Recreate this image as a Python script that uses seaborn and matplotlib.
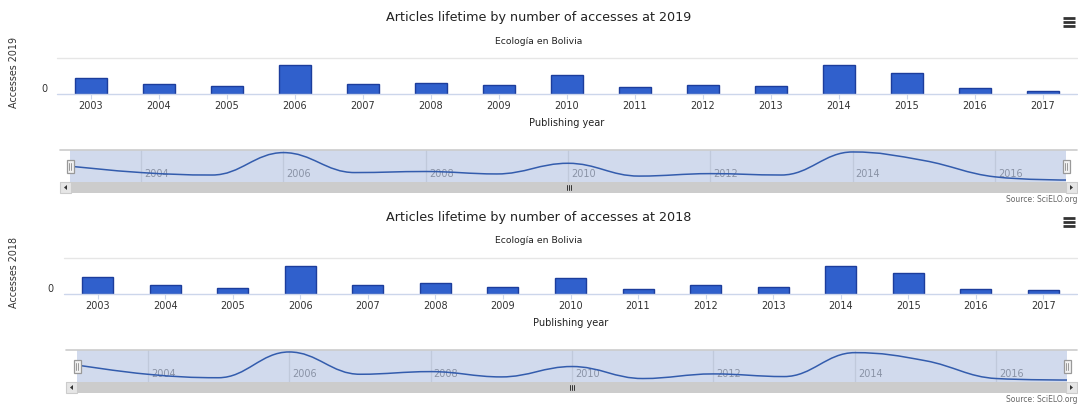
import numpy as np
import pandas as pd
import matplotlib
matplotlib.use("Agg")
import matplotlib.pyplot as plt
import seaborn as sns
from matplotlib.path import Path
from matplotlib.patches import PathPatch, Rectangle, Polygon
from matplotlib.lines import Line2D
from matplotlib.transforms import ScaledTranslation

# ---------------- data ----------------
years = [2003, 2004, 2005, 2006, 2007, 2008, 2009, 2010,
         2011, 2012, 2013, 2014, 2015, 2016, 2017]
accesses_2019 = [16, 10, 7.7, 28.7, 10, 11, 8.7, 18.7, 6.7, 9, 7.7, 29.3, 21.3, 6, 3]
accesses_2018 = [17, 9, 6, 28.3, 9, 11.3, 6.7, 15.7, 5.3, 9.3, 7, 27.7, 20.7, 5.3, 4]
panel_years = ["2019", "2018"]
subtitle = "Ecología en Bolivia"
x_title = "Publishing year"
source = "Source: SciELO.org"
nav_label_years = [2004, 2006, 2008, 2010, 2012, 2014, 2016]
y_grid_top = 36

# ---------------- style ----------------
W, H = 1078, 407
sns.set_theme(style="white")
plt.rcParams["font.family"] = ["DejaVu Sans"]

BAR_FILL = "#3060cc"
BAR_EDGE = "#1c3d9c"
TXT = "#333333"

fig = plt.figure(figsize=(W / 100, H / 100), dpi=100)


def box(x0, y0, x1, y1):
    return [x0 / W, 1 - y1 / H, (x1 - x0) / W, (y1 - y0) / H]


def fx(px):
    return px / W


def fy(py):
    return 1 - py / H


def hc_spline(xs, ys, smoothing=1.5):
    n = len(xs)
    lc = [None] * n
    rc = [None] * n
    d = smoothing + 1
    for i in range(1, n - 1):
        px, py = xs[i], ys[i]
        lx, ly = xs[i - 1], ys[i - 1]
        nx, ny = xs[i + 1], ys[i + 1]
        lcx = (smoothing * px + lx) / d
        lcy = (smoothing * py + ly) / d
        rcx = (smoothing * px + nx) / d
        rcy = (smoothing * py + ny) / d
        if rcx != lcx:
            corr = ((rcy - lcy) * (rcx - px)) / (rcx - lcx) + py - rcy
            lcy += corr
            rcy += corr
        if lcy > ly and lcy > py:
            lcy = max(ly, py); rcy = 2 * py - lcy
        elif lcy < ly and lcy < py:
            lcy = min(ly, py); rcy = 2 * py - lcy
        if rcy > ny and rcy > py:
            rcy = max(ny, py); lcy = 2 * py - rcy
        elif rcy < ny and rcy < py:
            rcy = min(ny, py); lcy = 2 * py - rcy
        lc[i] = (lcx, lcy)
        rc[i] = (rcx, rcy)
    verts = [(xs[0], ys[0])]
    codes = [Path.MOVETO]
    for i in range(1, n):
        c1 = rc[i - 1] if rc[i - 1] is not None else (xs[i - 1], ys[i - 1])
        c2 = lc[i] if lc[i] is not None else (xs[i], ys[i])
        verts += [c1, c2, (xs[i], ys[i])]
        codes += [Path.CURVE4] * 3
    return Path(verts, codes)


layouts = [
    dict(oy=0, bar_x0=57, nav_x0=60, hl=70, hr=1066, zero_x=48),
    dict(oy=200, bar_x0=64, nav_x0=66, hl=77, hr=1067, zero_x=54),
]
series = [accesses_2019, accesses_2018]

for lay, vals, py in zip(layouts, series, panel_years):
    oy = lay["oy"]
    # titles
    fig.text(0.5, fy(18 + oy), f"Articles lifetime by number of accesses at {py}",
             ha="center", va="center", fontsize=9.2, color="#222222")
    fig.text(0.5, fy(41 + oy), subtitle, ha="center", va="center",
             fontsize=6.7, color="#222222")
    # menu icon
    for yy in (17, 21, 25):
        fig.add_artist(Line2D([fx(1063), fx(1075)], [fy(yy + oy + 1)] * 2,
                              color="#333333", lw=2.0, solid_capstyle="butt"))
    # y axis title
    fig.text(fx(14), fy(72 + oy), f"Accesses {py}", rotation=90,
             ha="center", va="center", fontsize=6.9, color=TXT)

    # ---- bar chart ----
    ax = fig.add_axes(box(lay["bar_x0"], 58 + oy, 1077, 94 + oy))
    df = pd.DataFrame({"year": [str(y) for y in years], "accesses": vals})
    sns.barplot(data=df, x="year", y="accesses", ax=ax, color=BAR_FILL,
                saturation=1, width=0.46, edgecolor=BAR_EDGE, linewidth=1,
                errorbar=None)
    ax.set_xlim(-0.5, len(years) - 0.5)
    ax.set_ylim(0, y_grid_top)
    for s in ax.spines.values():
        s.set_visible(False)
    ax.axhline(y_grid_top, color="#e6e6e6", lw=1, clip_on=False, zorder=0)
    ax.axhline(0, color="#ccd6eb", lw=1, clip_on=False, zorder=3)
    ax.tick_params(axis="x", bottom=True, length=3.6, width=0.8,
                   color="#ccd6eb", pad=1.5, labelsize=7, labelcolor=TXT)
    ax.set_yticks([0])
    ax.set_yticklabels(["0"])
    ax.tick_params(axis="y", left=False, length=0,
                   pad=(lay["bar_x0"] - lay["zero_x"]) * 0.72,
                   labelsize=7, labelcolor=TXT)
    for lab in ax.get_yticklabels():
        lab.set_transform(lab.get_transform() +
                          ScaledTranslation(0, 6 / 100, fig.dpi_scale_trans))
    ax.set_xlabel(x_title, fontsize=7, color="#222222", labelpad=5)
    ax.set_ylabel("")

    # ---- navigator ----
    nav_top, nav_bot = 150 + oy, 182 + oy
    axn = fig.add_axes(box(lay["nav_x0"], nav_top, 1077, nav_bot))
    per_year = (lay["hr"] - lay["hl"]) / (years[-1] - years[0])
    xl0 = years[0] - (lay["hl"] - lay["nav_x0"]) / per_year
    xl1 = years[-1] + (1077 - lay["hr"]) / per_year
    axn.set_xlim(xl0, xl1)
    vmin, vmax = min(vals), max(vals)
    pad = 0.07 * (vmax - vmin)
    axn.set_ylim(vmin - pad, vmax + pad)
    axn.set_facecolor("white")
    for s in axn.spines.values():
        s.set_visible(False)
    axn.set_xticks([])
    axn.set_yticks([])
    axn.axvspan(years[0], years[-1], color="#d1daed", zorder=0, lw=0)
    for ny in nav_label_years:
        axn.axvline(ny, color="#c0c9db", lw=0.9, zorder=1)
        axn.annotate(str(ny), (ny, 0), xycoords=("data", "axes fraction"),
                     xytext=(2.2, 2.5), textcoords="offset points",
                     ha="left", va="bottom", fontsize=7, color="#8a93a6")
    axn.add_patch(PathPatch(hc_spline(years, vals), facecolor="none",
                            edgecolor="#335cad", lw=1.1, zorder=3))
    axn.axhline(vmax + pad, color="#cccccc", lw=1.2, clip_on=False, zorder=4)

    # handles
    for hx in (lay["hl"], lay["hr"]):
        cy = (nav_top + nav_bot) / 2
        fig.add_artist(Rectangle((fx(hx - 3.5), fy(cy + 6.5)), 7 / W, 13 / H,
                                 facecolor="#f2f2f2", edgecolor="#999999",
                                 lw=0.9, zorder=5))
        for dx in (-1, 1):
            fig.add_artist(Line2D([fx(hx + dx)] * 2, [fy(cy - 3.5), fy(cy + 3.5)],
                                  color="#999999", lw=0.7, zorder=6))

    # scrollbar
    sb_t, sb_b = 182 + oy, 193 + oy
    fig.add_artist(Rectangle((fx(lay["nav_x0"]), fy(sb_b)),
                             (1078 - lay["nav_x0"]) / W, (sb_b - sb_t) / H,
                             facecolor="#cccccc", edgecolor="none", zorder=2))
    for bx0 in (lay["nav_x0"], 1066):
        fig.add_artist(Rectangle((fx(bx0), fy(sb_b)), 11 / W, (sb_b - sb_t) / H,
                                 facecolor="#e6e6e6", edgecolor="#cccccc",
                                 lw=0.8, zorder=3))
    cy = (sb_t + sb_b) / 2
    lx = lay["nav_x0"] + 5.5
    fig.add_artist(Polygon([[fx(lx - 1.5), fy(cy)], [fx(lx + 1.5), fy(cy - 2.5)],
                            [fx(lx + 1.5), fy(cy + 2.5)]], closed=True,
                           facecolor="#333333", edgecolor="none", zorder=4))
    rx = 1071.5
    fig.add_artist(Polygon([[fx(rx + 1.5), fy(cy)], [fx(rx - 1.5), fy(cy - 2.5)],
                            [fx(rx - 1.5), fy(cy + 2.5)]], closed=True,
                           facecolor="#333333", edgecolor="none", zorder=4))
    mid = (lay["nav_x0"] + 11 + 1066) / 2
    for dx in (-2, 0, 2):
        fig.add_artist(Line2D([fx(mid + dx)] * 2, [fy(cy - 2.5), fy(cy + 2.5)],
                              color="#333333", lw=0.7, zorder=4))

    fig.text(fx(1077), fy(199 + oy), source, ha="right", va="center",
             fontsize=5.5, color="#666666")

fig.savefig("out.png", dpi=100, facecolor="white")
